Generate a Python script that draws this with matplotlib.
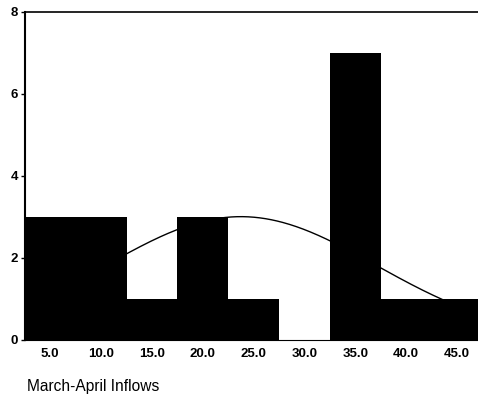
import numpy as np
import matplotlib
matplotlib.use("Agg")
import matplotlib.pyplot as plt

# Histogram of March-April inflows (bin centres and counts)
bin_centers = [5.0, 10.0, 15.0, 20.0, 25.0, 30.0, 35.0, 40.0, 45.0]
counts = [3, 3, 1, 3, 1, 0, 7, 1, 1]
bin_width = 5.0

# Fitted normal curve parameters
fit_mean = 23.75
fit_sd = 13.27

x_tick_labels = ["5.0", "10.0", "15.0", "20.0", "25.0", "30.0", "35.0", "40.0", "45.0"]
y_ticks = [0, 2, 4, 6, 8]

plt.rcParams["font.family"] = ["Liberation Sans", "DejaVu Sans"]

fig = plt.figure(figsize=(4.78, 3.98), dpi=100)
ax = fig.add_axes([0.052, 0.146, 0.957, 0.824])

# normal curve scaled to counts, drawn beneath the bars
n_total = sum(counts)
xs = np.linspace(2.5, 47.5, 400)
ys = n_total * bin_width / (fit_sd * np.sqrt(2 * np.pi)) * np.exp(-0.5 * ((xs - fit_mean) / fit_sd) ** 2)
ax.plot(xs, ys, color="black", lw=1.0, zorder=1)

ax.bar(bin_centers, counts, width=bin_width, color="black", edgecolor="black",
       linewidth=0, zorder=2)

ax.set_xlim(2.5, 47.5)
ax.set_ylim(0, 8)
ax.set_xticks(bin_centers)
ax.set_xticklabels(x_tick_labels, fontsize=9.5, fontweight="bold")
ax.set_yticks(y_ticks)
ax.set_yticklabels([str(v) for v in y_ticks], fontsize=9.5, fontweight="bold")
ax.tick_params(axis="x", length=0, pad=6)
ax.tick_params(axis="y", length=3, width=1, direction="out", pad=2)

ax.spines["right"].set_visible(False)
ax.spines["left"].set_linewidth(1.5)
ax.spines["top"].set_linewidth(1.2)
ax.spines["bottom"].set_linewidth(0.8)

fig.text(0.057, 0.030, "March-April Inflows", fontsize=11.2, ha="left", va="center")

fig.savefig("out.png", dpi=100, facecolor="white")
